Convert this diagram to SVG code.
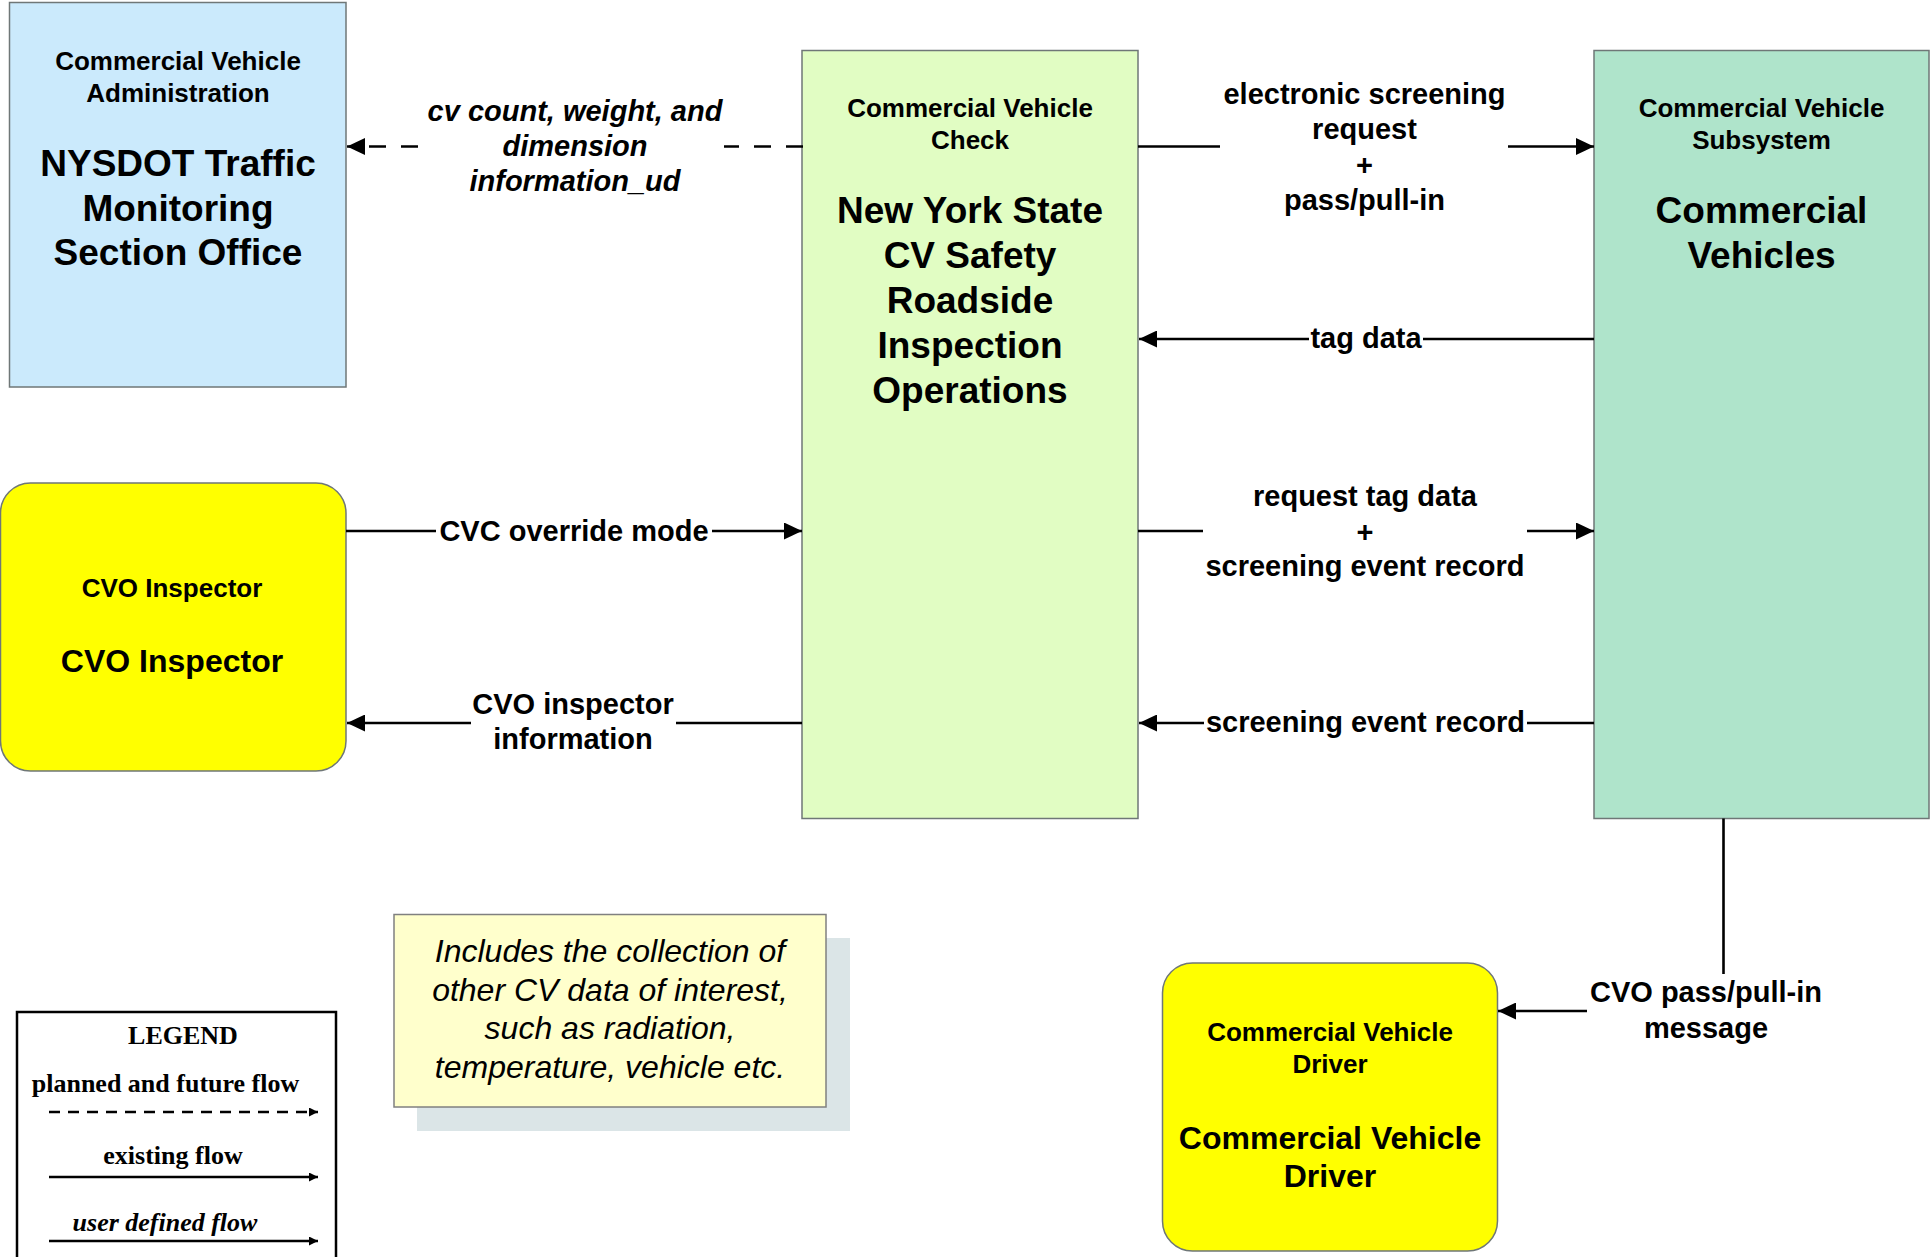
<svg xmlns="http://www.w3.org/2000/svg" width="1931" height="1257" viewBox="0 0 1931 1257">
<style>
text{font-family:"Liberation Sans",Arial,sans-serif;fill:#000;text-anchor:middle}
.b{font-weight:bold}
.s{font-size:26px;font-weight:bold}
.L{font-size:37px;font-weight:bold}
.M{font-size:32px;font-weight:bold}
.lab{font-size:29px;font-weight:bold}
.it{font-style:italic}
.note{font-size:32px;font-style:italic}
.lg{font-family:"Liberation Serif","Times New Roman",serif;font-size:26px;font-weight:bold}
.box{stroke:#6f7777;stroke-width:1.5}
.c{fill:none;stroke:#000;stroke-width:2.6}
.d{stroke-dasharray:17 15}
.lgl{fill:none;stroke:#000;stroke-width:2.5}
</style>
<defs>
<marker id="ah" markerUnits="userSpaceOnUse" viewBox="0 0 18 17" refX="18" refY="8.5" markerWidth="18" markerHeight="17" orient="auto">
<path d="M0,0 L18,8.5 L0,17 z" fill="#000"/>
</marker>
<marker id="sh" markerUnits="userSpaceOnUse" viewBox="0 0 9 9" refX="9" refY="4.5" markerWidth="9" markerHeight="9" orient="auto">
<path d="M0,0 L9,4.5 L0,9 z" fill="#000"/>
</marker>
</defs>
<rect width="1931" height="1257" fill="#fff"/>

<g id="nysdot">
<rect class="box" x="9.5" y="2.5" width="336.5" height="384.5" fill="#cbeafc"/>
<text class="s" x="178" y="70">Commercial Vehicle</text>
<text class="s" x="178" y="102">Administration</text>
<text class="L" x="178" y="175.5">NYSDOT Traffic</text>
<text class="L" x="178" y="220.5">Monitoring</text>
<text class="L" x="178" y="264.5">Section Office</text>
</g>

<g id="cvc">
<rect class="box" x="802" y="50.5" width="336" height="768" fill="#e1fdc3"/>
<text class="s" x="970" y="117">Commercial Vehicle</text>
<text class="s" x="970" y="149">Check</text>
<text class="L" x="970" y="223">New York State</text>
<text class="L" x="970" y="268">CV Safety</text>
<text class="L" x="970" y="313">Roadside</text>
<text class="L" x="970" y="358">Inspection</text>
<text class="L" x="970" y="403">Operations</text>
</g>

<g id="cvs">
<rect class="box" x="1594" y="50.5" width="335" height="768" fill="#afe4cb"/>
<text class="s" x="1761.5" y="117">Commercial Vehicle</text>
<text class="s" x="1761.5" y="149">Subsystem</text>
<text class="L" x="1761.5" y="223">Commercial</text>
<text class="L" x="1761.5" y="268">Vehicles</text>
</g>

<g id="inspector">
<rect class="box" x="0.5" y="483" width="345.5" height="288" rx="30" ry="30" fill="#ffff00"/>
<text class="s" x="172" y="597">CVO Inspector</text>
<text class="M" x="172" y="672">CVO Inspector</text>
</g>

<g id="driver">
<rect class="box" x="1162.5" y="963" width="335" height="288" rx="30" ry="30" fill="#ffff00"/>
<text class="s" x="1330" y="1041">Commercial Vehicle</text>
<text class="s" x="1330" y="1073">Driver</text>
<text class="M" x="1330" y="1148.5">Commercial Vehicle</text>
<text class="M" x="1330" y="1187">Driver</text>
</g>

<g id="note">
<rect x="417" y="938" width="433" height="193" fill="#dbe5e7"/>
<rect x="394" y="914.5" width="432" height="192.5" fill="#ffffcc" stroke="#808080" stroke-width="1.5"/>
<text class="note" x="610" y="962">Includes the collection of</text>
<text class="note" x="610" y="1000.5">other CV data of interest,</text>
<text class="note" x="610" y="1039">such as radiation,</text>
<text class="note" x="610" y="1077.5">temperature, vehicle etc.</text>
</g>

<g id="legend">
<rect x="17" y="1012" width="319" height="260" fill="#fff" stroke="#000" stroke-width="2.5"/>
<text class="lg" x="183" y="1044">LEGEND</text>
<text class="lg" x="165.5" y="1092">planned and future flow</text>
<path class="lgl" d="M49,1112 L318,1112" stroke-dasharray="11 8" marker-end="url(#sh)"/>
<text class="lg" x="173" y="1164">existing flow</text>
<path class="lgl" d="M49,1177 L318,1177" marker-end="url(#sh)"/>
<text class="lg it" x="165" y="1231">user defined flow</text>
<path class="lgl" d="M49,1241 L318,1241" marker-end="url(#sh)"/>
</g>

<g id="connectors">
<!-- cv count -->
<path class="c d" d="M803,146.5 L724,146.5"/>
<path class="c d" d="M418,146.5 L347,146.5" marker-end="url(#ah)"/>
<text class="lab it" x="575" y="121">cv count, weight, and</text>
<text class="lab it" x="575" y="156">dimension</text>
<text class="lab it" x="575" y="191">information_ud</text>
<!-- electronic screening -->
<path class="c" d="M1138,146.5 L1220,146.5"/>
<path class="c" d="M1508,146.5 L1594,146.5" marker-end="url(#ah)"/>
<text class="lab" x="1364.5" y="104">electronic screening</text>
<text class="lab" x="1364.5" y="138.5">request</text>
<text class="lab" x="1364.5" y="174.5">+</text>
<text class="lab" x="1364.5" y="209.5">pass/pull-in</text>
<!-- tag data -->
<path class="c" d="M1594,339 L1423,339"/>
<path class="c" d="M1309,339 L1139,339" marker-end="url(#ah)"/>
<text class="lab" x="1366" y="348">tag data</text>
<!-- CVC override mode -->
<path class="c" d="M346,531 L436,531"/>
<path class="c" d="M712,531 L802,531" marker-end="url(#ah)"/>
<text class="lab" x="574" y="541">CVC override mode</text>
<!-- CVO inspector information -->
<path class="c" d="M802,723 L676,723"/>
<path class="c" d="M471,723 L347,723" marker-end="url(#ah)"/>
<text class="lab" x="573" y="714">CVO inspector</text>
<text class="lab" x="573" y="749">information</text>
<!-- request tag data -->
<path class="c" d="M1138,531 L1203,531"/>
<path class="c" d="M1527,531 L1594,531" marker-end="url(#ah)"/>
<text class="lab" x="1365" y="505.5">request tag data</text>
<text class="lab" x="1365" y="541.5">+</text>
<text class="lab" x="1365" y="575.5">screening event record</text>
<!-- screening event record -->
<path class="c" d="M1594,723 L1527,723"/>
<path class="c" d="M1204,723 L1139,723" marker-end="url(#ah)"/>
<text class="lab" x="1365.5" y="732">screening event record</text>
<!-- CVO pass/pull-in -->
<path class="c" d="M1723.5,818.5 L1723.5,974"/>
<path class="c" d="M1587,1011 L1498,1011" marker-end="url(#ah)"/>
<text class="lab" x="1706" y="1001.5">CVO pass/pull-in</text>
<text class="lab" x="1706" y="1037.5">message</text>
</g>
</svg>
